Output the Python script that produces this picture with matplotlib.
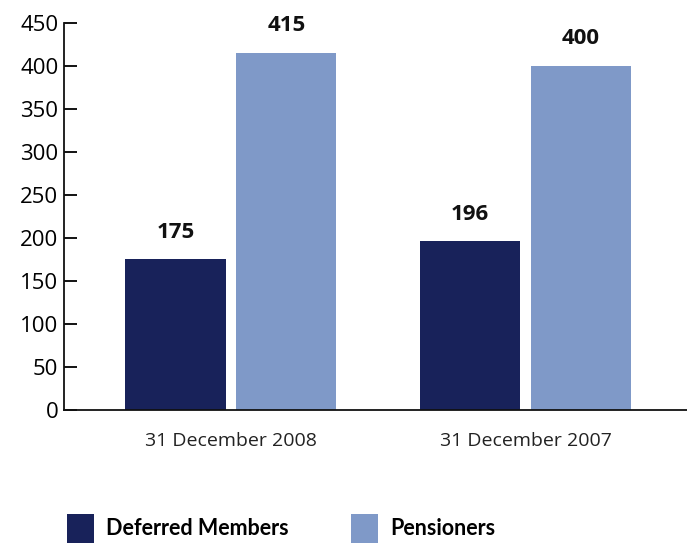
import numpy as np
import matplotlib
matplotlib.use("Agg")
from matplotlib import pyplot as plt

plt.rcParams['font.family'] = ['Open Sans', 'DejaVu Sans']

# data
dates = ["31 December 2008", "31 December 2007"]
deferred = [175, 196]
pensioners = [415, 400]
series_names = ["Deferred Members", "Pensioners"]
yticks = [0, 50, 100, 150, 200, 250, 300, 350, 400, 450]

dark = "#18225a"
light = "#7f99c8"

fig = plt.figure(figsize=(6.87, 5.43), dpi=100)
ax = fig.add_axes([0.093, 0.245, 0.907, 0.713])

x = np.arange(len(dates))
w = 0.34
off = 0.188
b1 = ax.bar(x - off, deferred, w, color=dark, label=series_names[0])
b2 = ax.bar(x + off, pensioners, w, color=light, label=series_names[1])

for bars in (b1, b2):
    for r in bars:
        ax.annotate("%d" % r.get_height(), (r.get_x() + r.get_width() / 2, r.get_height()),
                    xytext=(0, 12), textcoords="offset points", ha="center", va="bottom",
                    fontsize=16, fontweight="bold", color="#111111")

ax.set_xlim(-0.567, 1.548)
ax.set_ylim(0, 450)
ax.set_yticks(yticks)
ax.set_xticks(x)
ax.set_xticklabels(dates, fontsize=14, color="#222222")
ax.tick_params(axis="y", direction="in", length=9, width=1.3, labelsize=16, pad=4)
ax.tick_params(axis="x", length=0, pad=16)
for s in ("top", "right"):
    ax.spines[s].set_visible(False)
for s in ("left", "bottom"):
    ax.spines[s].set_linewidth(1.3)
    ax.spines[s].set_color("#111111")

fig.legend(handles=[b1, b2], labels=series_names, loc="lower left",
           bbox_to_anchor=(0.07, -0.035), ncol=2, frameon=False,
           prop={"family": "Lato", "size": 15.5, "weight": "bold"},
           handlelength=1.25, handleheight=1.7, handletextpad=0.55, columnspacing=2.9)

fig.savefig("out.png", dpi=100)
